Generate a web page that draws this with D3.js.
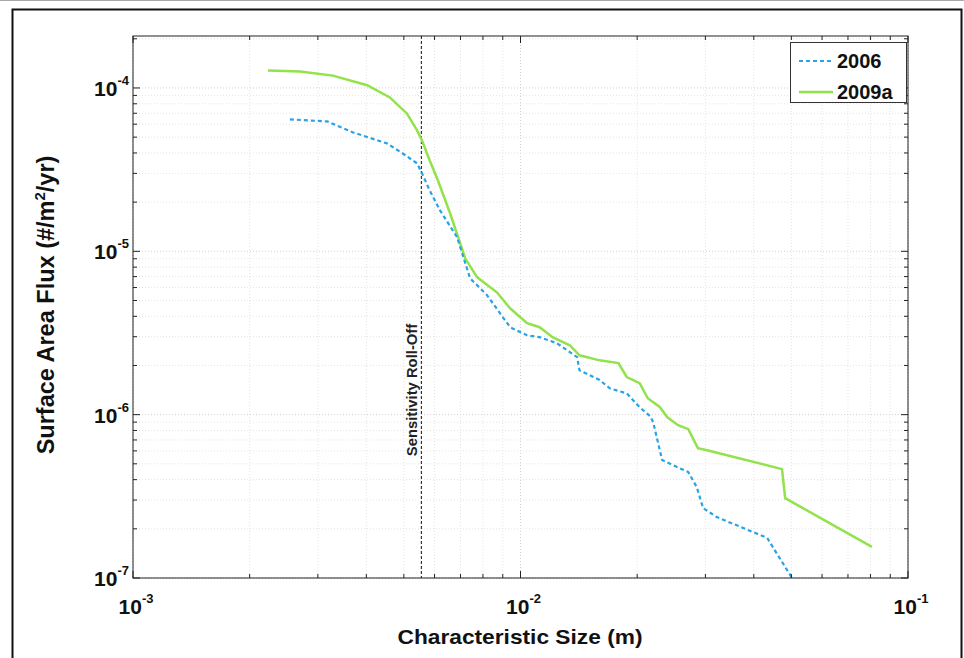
<!DOCTYPE html>
<html>
<head>
<meta charset="utf-8">
<script src="https://cdn.jsdelivr.net/npm/d3@7/dist/d3.min.js"></script>
<style>
  html, body { margin: 0; padding: 0; background: #fff; }
  svg { display: block; font-family: "Liberation Sans", Arial, sans-serif; }
</style>
</head>
<body>
<svg id="chart" width="964" height="658"></svg>
<script>
// ---- Data ----
const size2006 = [2.54e-3, 3.17e-3, 3.70e-3, 4.52e-3, 4.97e-3, 5.41e-3, 5.57e-3, 5.83e-3, 6.20e-3, 6.86e-3,
  7.41e-3, 8.20e-3, 8.85e-3, 9.40e-3, 1.04e-2, 1.12e-2, 1.24e-2, 1.40e-2, 1.42e-2, 1.60e-2,
  1.70e-2, 1.88e-2, 2.03e-2, 2.16e-2, 2.20e-2, 2.32e-2, 2.71e-2, 2.85e-2, 2.96e-2, 3.21e-2,
  4.33e-2, 5.02e-2];
const flux2006 = [6.42e-5, 6.24e-5, 5.34e-5, 4.58e-5, 3.97e-5, 3.45e-5, 3.00e-5, 2.36e-5, 1.78e-5, 1.22e-5,
  6.84e-6, 5.38e-6, 4.18e-6, 3.43e-6, 3.06e-6, 2.98e-6, 2.74e-6, 2.25e-6, 1.87e-6, 1.63e-6,
  1.45e-6, 1.35e-6, 1.11e-6, 9.79e-7, 9.00e-7, 5.27e-7, 4.45e-7, 3.60e-7, 2.68e-7, 2.36e-7,
  1.76e-7, 1.00e-7];

const size2009a = [2.23e-3, 2.70e-3, 3.28e-3, 4.02e-3, 4.60e-3, 5.09e-3, 5.41e-3, 5.57e-3, 5.83e-3, 6.12e-3,
  6.58e-3, 7.20e-3, 7.73e-3, 8.69e-3, 9.40e-3, 1.04e-2, 1.12e-2, 1.21e-2, 1.34e-2, 1.42e-2,
  1.60e-2, 1.79e-2, 1.88e-2, 2.03e-2, 2.13e-2, 2.29e-2, 2.39e-2, 2.55e-2, 2.71e-2, 2.87e-2,
  3.03e-2, 4.73e-2, 4.82e-2, 8.07e-2];
const flux2009a = [1.28e-4, 1.26e-4, 1.19e-4, 1.04e-4, 8.75e-5, 6.98e-5, 5.50e-5, 4.77e-5, 3.60e-5, 2.72e-5,
  1.71e-5, 9.06e-6, 6.93e-6, 5.61e-6, 4.48e-6, 3.63e-6, 3.43e-6, 2.98e-6, 2.66e-6, 2.31e-6,
  2.15e-6, 2.07e-6, 1.70e-6, 1.56e-6, 1.26e-6, 1.11e-6, 9.66e-7, 8.62e-7, 8.15e-7, 6.24e-7,
  6.06e-7, 4.64e-7, 3.08e-7, 1.55e-7];

const seriesNames = ["2006", "2009a"];
const rollOffSize = 5.55e-3;
const rollOffLabel = "Sensitivity Roll-Off";
const xTickExps = [-3, -2, -1];
const yTickExps = [-7, -6, -5, -4];
const xDomain = [1e-3, 1e-1];
const yDomain = [1e-7, 2.08e-4];
const xTitle = "Characteristic Size (m)";

// ---- Layout ----
const svg = d3.select("#chart");
const L = 133, R = 908, T = 36, B = 578;
const x = d3.scaleLog().domain(xDomain).range([L, R]);
const y = d3.scaleLog().domain(yDomain).range([B, T]);

// outer frame
svg.append("line").attr("x1", 0).attr("x2", 964).attr("y1", 0.5).attr("y2", 0.5)
  .attr("stroke", "#aaa").attr("stroke-width", 1);
svg.append("rect").attr("x", 12.5).attr("y", 9.5).attr("width", 949).attr("height", 660)
  .attr("fill", "#fff").attr("stroke", "#111").attr("stroke-width", 2);

// axes background
svg.append("rect").attr("x", L).attr("y", T).attr("width", R - L).attr("height", B - T).attr("fill", "#fff");

function decadeTicks(lo, hi) {
  const out = [];
  for (let e = Math.floor(Math.log10(lo)); e <= Math.ceil(Math.log10(hi)); e++) {
    for (let m = 1; m <= 9; m++) {
      const v = m * Math.pow(10, e);
      if (v >= lo * 0.9999 && v <= hi * 1.0001) out.push({ v, major: m === 1 });
    }
  }
  return out;
}
const xt = decadeTicks(xDomain[0], xDomain[1]);
const yt = decadeTicks(yDomain[0], yDomain[1]);

// grid
const grid = svg.append("g");
xt.forEach(t => {
  grid.append("line").attr("x1", x(t.v)).attr("x2", x(t.v)).attr("y1", T).attr("y2", B)
    .attr("stroke", t.major ? "#d2d2d2" : "#e4e4e4").attr("stroke-width", 1)
    .attr("stroke-dasharray", "1,2");
});
yt.forEach(t => {
  grid.append("line").attr("x1", L).attr("x2", R).attr("y1", y(t.v)).attr("y2", y(t.v))
    .attr("stroke", t.major ? "#d2d2d2" : "#e4e4e4").attr("stroke-width", 1)
    .attr("stroke-dasharray", "1,2");
});

// roll-off line
svg.append("line").attr("x1", x(rollOffSize)).attr("x2", x(rollOffSize)).attr("y1", T).attr("y2", B)
  .attr("stroke", "#333").attr("stroke-width", 1.2).attr("stroke-dasharray", "3,2");
svg.append("text")
  .attr("transform", `translate(${x(rollOffSize) - 4},${(322 + 458) / 2}) rotate(-90)`)
  .attr("text-anchor", "middle").attr("font-size", 14.8).attr("font-weight", "bold").attr("fill", "#222")
  .text(rollOffLabel);

// series
const line = d3.line().x(d => x(d[0])).y(d => y(d[1]));
const d06 = size2006.map((s, i) => [s, flux2006[i]]);
const d09 = size2009a.map((s, i) => [s, flux2009a[i]]);
svg.append("clipPath").attr("id", "clip").append("rect")
  .attr("x", L).attr("y", T).attr("width", R - L).attr("height", B - T);
svg.append("path").datum(d09).attr("d", line).attr("fill", "none")
  .attr("stroke", "#92e24c").attr("stroke-width", 2.5).attr("clip-path", "url(#clip)");
svg.append("path").datum(d06).attr("d", line).attr("fill", "none")
  .attr("stroke", "#29a3e6").attr("stroke-width", 2.2).attr("stroke-dasharray", "4,3")
  .attr("clip-path", "url(#clip)");

// axes box
svg.append("rect").attr("x", L).attr("y", T).attr("width", R - L).attr("height", B - T)
  .attr("fill", "none").attr("stroke", "#222").attr("stroke-width", 1);

// inward ticks on all four sides
const tk = svg.append("g").attr("stroke", "#222").attr("stroke-width", 1);
xt.forEach(t => {
  const len = t.major ? 7 : 4, px = x(t.v);
  tk.append("line").attr("x1", px).attr("x2", px).attr("y1", B).attr("y2", B - len);
  tk.append("line").attr("x1", px).attr("x2", px).attr("y1", T).attr("y2", T + len);
});
yt.forEach(t => {
  const len = t.major ? 7 : 4, py = y(t.v);
  tk.append("line").attr("x1", L).attr("x2", L + len).attr("y1", py).attr("y2", py);
  tk.append("line").attr("x1", R).attr("x2", R - len).attr("y1", py).attr("y2", py);
});

// tick labels
xTickExps.forEach(e => {
  const t = svg.append("text").attr("x", x(Math.pow(10, e)) + 3).attr("y", B + 36)
    .attr("text-anchor", "middle").attr("font-size", 21).attr("font-weight", "bold").attr("fill", "#111");
  t.append("tspan").text("10");
  t.append("tspan").attr("font-size", 13).attr("dy", -11).text("-" + Math.abs(e));
});
yTickExps.forEach(e => {
  const t = svg.append("text").attr("x", L - 4).attr("y", y(Math.pow(10, e)) + 8)
    .attr("text-anchor", "end").attr("font-size", 21).attr("font-weight", "bold").attr("fill", "#111");
  t.append("tspan").text("10");
  t.append("tspan").attr("font-size", 13).attr("dy", -11).text("-" + Math.abs(e));
});

// axis titles
svg.append("text").attr("x", 520).attr("y", 644).attr("text-anchor", "middle")
  .attr("font-size", 21).attr("font-weight", "bold").attr("fill", "#111")
  .attr("textLength", 245).attr("lengthAdjust", "spacingAndGlyphs").text(xTitle);
const yt2 = svg.append("text").attr("transform", `translate(54,305) rotate(-90)`)
  .attr("text-anchor", "middle").attr("font-size", 23.5).attr("font-weight", "bold").attr("fill", "#111");
yt2.append("tspan").text("Surface Area Flux (#/m");
yt2.append("tspan").attr("font-size", 15).attr("dy", -9).text("2");
yt2.append("tspan").attr("dy", 9).text("/yr)");

// legend
const lg = svg.append("g");
lg.append("rect").attr("x", 790.5).attr("y", 42.5).attr("width", 116).attr("height", 60)
  .attr("fill", "#fff").attr("stroke", "#333").attr("stroke-width", 1);
const legendStyles = [
  { color: "#29a3e6", dash: "4,3", w: 2 },
  { color: "#92e24c", dash: null, w: 2.5 }
];
seriesNames.forEach((name, i) => {
  const cy = 61 + i * 31;
  const s = legendStyles[i];
  lg.append("line").attr("x1", 799).attr("x2", 833).attr("y1", cy).attr("y2", cy)
    .attr("stroke", s.color).attr("stroke-width", s.w).attr("stroke-dasharray", s.dash);
  lg.append("text").attr("x", 837).attr("y", cy + 7).attr("font-size", 20).attr("font-weight", "bold")
    .attr("fill", "#111").text(name);
});
</script>
</body>
</html>
